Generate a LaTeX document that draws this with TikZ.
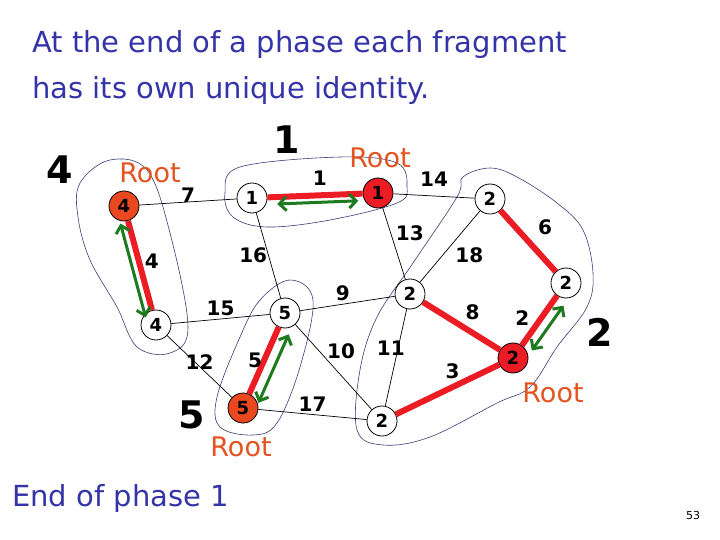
\documentclass[tikz,border=0pt]{standalone}
\usepackage{fontspec}
\setmainfont{DejaVu Sans}
\usepackage{xcolor}
\usetikzlibrary{arrows.meta,calc,positioning}
\definecolor{titleblue}{RGB}{52,52,168}
\definecolor{treered}{RGB}{236,28,36}
\definecolor{rootorange}{RGB}{234,72,32}
\definecolor{roottext}{RGB}{226,84,32}
\definecolor{markgreen}{RGB}{30,122,30}
\definecolor{fragline}{RGB}{60,60,120}

\begin{document}
\begin{tikzpicture}[x=1pt, y=-1pt,
  vtx/.style={draw, circle, line width=0.8pt, minimum size=30pt, inner sep=0pt,
              fill=white, text=black, font=\bfseries\fontsize{18}{18}\selectfont},
  rootvtx/.style={vtx, fill=treered},
  oroot/.style={vtx, fill=rootorange},
  edge/.style={line width=0.7pt, black},
  tree/.style={line width=6pt, treered},
  wt/.style={inner sep=1pt, text=black, font=\bfseries\fontsize{20}{20}\selectfont},
  idarrow/.style={{Straight Barb[length=7pt,width=14pt]}-{Straight Barb[length=7pt,width=14pt]},
               line width=3pt, markgreen},
  frag/.style={line width=0.6pt, fragline},
  fraglbl/.style={font=\bfseries\fontsize{38}{38}\selectfont},
  rootlbl/.style={text=roottext, font=\fontsize{27}{27}\selectfont},
  blue text/.style={text=titleblue, align=left, inner sep=0pt}
]
\useasboundingbox (0,0) rectangle (720,540);

\node[blue text, anchor=north west, font=\fontsize{29}{46}\selectfont] (title) at (32,30)
  {At the end of a phase each fragment\\has its own unique identity.};
\node[blue text, anchor=west, font=\fontsize{29}{29}\selectfont] (phase) at (12,498) {End of phase 1};
\node[font=\fontsize{11}{11}\selectfont] (page) at (693,515) {53};

\draw[frag] plot[smooth cycle, tension=0.6] coordinates {(78,217) (80,183) (110,160) (147,170)
  (170,233) (188,327) (170,353) (137,347) (117,307) (90,260)};
\draw[frag] plot[smooth cycle, tension=0.6] coordinates {(225,193) (240,167) (340,157) (397,163)
  (407,187) (397,203) (330,220) (267,227) (233,217)};
\draw[frag] plot[smooth cycle, tension=0.6] coordinates {(290,280) (313,300) (300,367) (277,423)
  (253,435) (220,427) (217,397) (240,337) (260,300)};
\draw[frag] plot[smooth cycle, tension=0.6] coordinates {(490,168) (517,177) (557,203) (583,230)
  (593,273) (587,307) (557,347) (530,387) (497,403) (430,437) (383,445) (357,430) (360,370)
  (377,317) (413,263) (457,197) (463,177)};

\node[oroot] (n4a) at (124,206) {4};
\node[vtx] (n4b) at (156,325) {4};
\node[vtx] (n1a) at (252,198) {1};
\node[rootvtx] (n1b) at (378,193) {1};
\node[vtx] (n2a) at (490,199) {2};
\node[vtx] (n2b) at (566,283) {2};
\node[vtx] (n2c) at (410,294) {2};
\node[rootvtx] (n2d) at (513,358) {2};
\node[vtx] (n2e) at (382,421) {2};
\node[vtx] (n5a) at (285,313) {5};
\node[oroot] (n5b) at (243,408) {5};

\draw[edge] (n4a) -- node[wt, above=-2pt]{7} (n1a);
\draw[tree] (n1a) -- node[wt, above=6pt, pos=0.55]{1} (n1b);
\draw[edge] (n1b) -- node[wt, above=8pt]{14} (n2a);
\draw[edge] (n1b) -- node[wt, right=4pt, pos=0.35]{13} (n2c);
\draw[edge] (n2a) -- node[wt, below right=0pt and 4pt]{18} (n2c);
\draw[tree] (n2a) -- node[wt, above right=2pt and 6pt]{6} (n2b);
\draw[tree] (n2b) -- node[wt, left=8pt, pos=0.45]{2} (n2d);
\draw[tree] (n2c) -- node[wt, above right=2pt and 0pt]{8} (n2d);
\draw[edge] (n2c) -- node[wt, left=-8pt, pos=0.4]{11} (n2e);
\draw[tree] (n2e) -- node[wt, above=4pt, pos=0.55]{3} (n2d);
\draw[edge] (n1a) -- node[wt, left=0pt]{16} (n5a);
\draw[tree] (n4a) -- node[wt, right=2pt, pos=0.45]{4} (n4b);
\draw[edge] (n4b) -- node[wt, above=2pt]{15} (n5a);
\draw[edge] (n5a) -- node[wt, above=2pt, pos=0.45]{9} (n2c);
\draw[edge] (n4b) -- node[wt, pos=0.5, above=-4pt]{12} (n5b);
\draw[tree] (n5a) -- node[wt, left=-2pt]{5} (n5b);
\draw[edge] (n5a) -- node[wt, above right=-2pt and 0pt, pos=0.4]{10} (n2e);
\draw[edge] (n5b) -- node[wt, above=2pt]{17} (n2e);

\draw[idarrow, shorten <=16pt, shorten >=10pt] ($(n4a)!8pt!-90:(n4b)$) -- ($(n4b)!8pt!90:(n4a)$);
\draw[idarrow, shorten <=25pt, shorten >=20pt] ($(n1a)!7pt!-90:(n1b)$) -- ($(n1b)!7pt!90:(n1a)$);
\draw[idarrow, shorten <=18pt, shorten >=11pt] ($(n5a)!12pt!90:(n5b)$) -- ($(n5b)!12pt!-90:(n5a)$);
\draw[idarrow, shorten <=20pt, shorten >=17pt] ($(n2b)!11pt!90:(n2d)$) -- ($(n2d)!11pt!-90:(n2b)$);

\node[rootlbl] (r4) at (150,173) {Root};
\node[rootlbl] (r1) at (380,158) {Root};
\node[rootlbl] (r2) at (553,393) {Root};
\node[rootlbl] (r5) at (241,447) {Root};

\node[fraglbl] (f4) at (60,170) {4};
\node[fraglbl] (f1) at (287,140) {1};
\node[fraglbl] (f2) at (600,332) {2};
\node[fraglbl] (f5) at (192,415) {5};
\end{tikzpicture}
\end{document}
